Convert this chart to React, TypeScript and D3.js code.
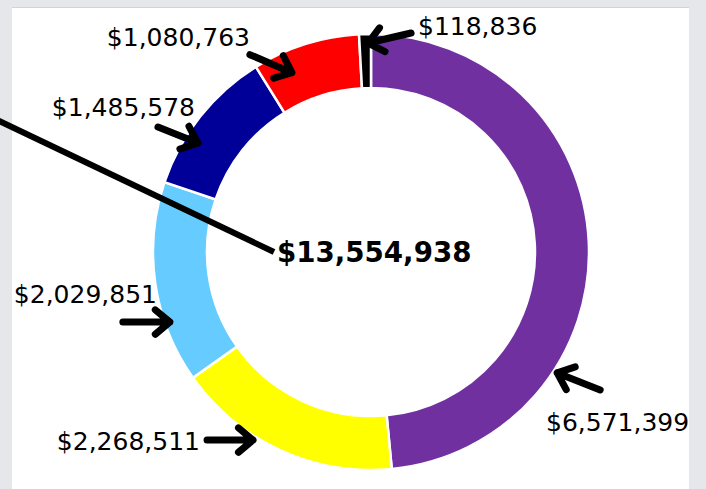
import React from "react";
import * as d3 from "d3";

// ---- data ----
const categories = ["A", "B", "C", "D", "E", "F"];
const values = [6571399, 2268511, 2029851, 1485578, 1080763, 118836];
const colors = ["#7030a0", "#ffff00", "#66ccff", "#000099", "#ff0000", "#000000"];

// ---- layout (annotations) ----
// tip given in polar coords relative to the donut center (deg clockwise from top, radius),
// tail as offset from tip, label as absolute position
const annotations = [
  { tipA: 123, tipR: 222, dx: 43, dy: 17, lx: 546, ly: 431, anchor: "start" },
  { tipA: 212.1, tipR: 222, dx: -46, dy: 0, lx: 200, ly: 450, anchor: "end" },
  { tipA: 250.8, tipR: 213, dx: -47, dy: 0, lx: 157, ly: 303, anchor: "end" },
  { tipA: 302.2, tipR: 204.5, dx: -40, dy: -16, lx: 195, ly: 116, anchor: "end" },
  { tipA: 336.2, tipR: 196, dx: -42, dy: -18, lx: 250, ly: 46, anchor: "end" },
  { tipA: 359.2, tipR: 209, dx: 43, dy: -10, lx: 418, ly: 35, anchor: "start" },
];

const W = 706;
const H = 489;
const cx = 371;
const cy = 252;
const rOuter = 218;
const rInner = 164;

export default function App() {
  const pie = d3.pie<number>().sort(null).startAngle(0).endAngle(2 * Math.PI);
  const arcs = pie(values);
  const arc = d3.arc<d3.PieArcDatum<number>>().innerRadius(rInner).outerRadius(rOuter);
  const fmt = d3.format("$,");
  const total = d3.sum(values);

  const headLen = 19;
  const headAng = (40 * Math.PI) / 180;

  return (
    <div style={{ position: "absolute", left: 0, top: 0 }}>
      <svg width={W} height={H} style={{ display: "block" }}>
        <rect x={0} y={0} width={W} height={H} fill="#e5e7eb" />
        <rect x={12} y={7} width={677} height={H} fill="#ffffff" />
        <line x1={12} x2={689} y1={7.5} y2={7.5} stroke="#d2d4d8" strokeWidth={1} />
        <g transform={`translate(${cx},${cy})`}>
          {arcs.map((a, i) => (
            <path key={categories[i]} d={arc(a) || ""} fill={colors[i]} stroke="#ffffff" strokeWidth={2.5} />
          ))}
        </g>
        {/* pointer line to total */}
        <line x1={-5} y1={119} x2={274} y2={252} stroke="#000" strokeWidth={6} />
        <text
          x={277}
          y={262}
          fontFamily="DejaVu Sans, Verdana, sans-serif"
          fontWeight="bold"
          fontSize={27.7}
          fill="#000"
        >
          {fmt(total)}
        </text>
        {annotations.map((an, i) => {
          const t = (an.tipA * Math.PI) / 180;
          const tx = cx + an.tipR * Math.sin(t);
          const ty = cy - an.tipR * Math.cos(t);
          const sx = tx + an.dx;
          const sy = ty + an.dy;
          const dir = Math.atan2(sy - ty, sx - tx);
          const h1x = tx + headLen * Math.cos(dir + headAng);
          const h1y = ty + headLen * Math.sin(dir + headAng);
          const h2x = tx + headLen * Math.cos(dir - headAng);
          const h2y = ty + headLen * Math.sin(dir - headAng);
          const d = `M${sx},${sy}L${tx},${ty}M${h1x},${h1y}L${tx},${ty}L${h2x},${h2y}`;
          return (
            <g key={i}>
              <path d={d} fill="none" stroke="#000" strokeWidth={7} strokeLinecap="round" strokeLinejoin="round" />
              <text
                x={an.lx}
                y={an.ly}
                textAnchor={an.anchor}
                fontFamily="DejaVu Sans, Verdana, sans-serif"
                fontSize={25}
                fill="#000"
              >
                {fmt(values[i])}
              </text>
            </g>
          );
        })}
      </svg>
    </div>
  );
}
